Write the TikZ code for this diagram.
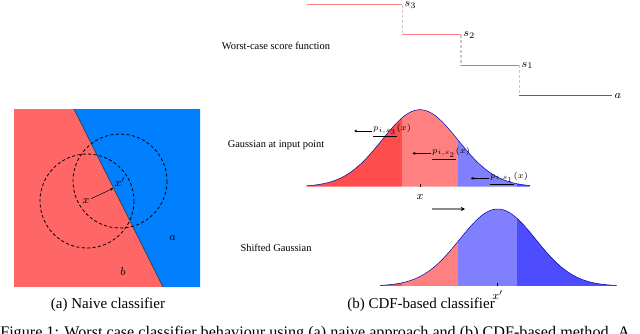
\documentclass[tikz,border=0pt]{standalone}
\usepackage{fontspec}
\setmainfont{Liberation Serif}
\usetikzlibrary{arrows.meta,positioning,calc}
\definecolor{naivered}{HTML}{FF6666}
\definecolor{naiveblue}{HTML}{0080FF}
\definecolor{regSthree}{HTML}{FF4D4D}
\definecolor{regStwo}{HTML}{FF8080}
\definecolor{regSone}{HTML}{8080FF}
\definecolor{regA}{HTML}{4D4DFF}
\definecolor{risergray}{HTML}{C8C8C8}
\definecolor{shiftgray}{HTML}{8C8C8C}

\begin{document}
\begin{tikzpicture}[x=0.7pt,y=-0.7pt,
    declare function={gss(\t,\m)=77*exp(-0.5*((\t-\m)/38)^2);},
    lbl/.style   = {font=\fontsize{7.3}{8.5}\selectfont},
    capt/.style  = {font=\fontsize{10.5}{12}\selectfont},
    mlbl/.style  = {font=\fontsize{8}{9}\selectfont,inner sep=1pt},
    plbl/.style  = {font=\fontsize{6.5}{7}\selectfont,inner sep=0.5pt,anchor=west},
    pointer/.style = {-{Stealth[length=2.2pt,width=2pt]},line width=0.35pt},
    ring/.style  = {dashed,line width=0.55pt,dash pattern=on 2.2pt off 1.6pt},
    riser/.style = {risergray,line width=1.1pt,dash pattern=on 2pt off 1.5pt},
    curveline/.style = {blue!70!black,line width=0.35pt},
  ]
  \clip (0,0) rectangle (640,333);

  % -- (a) naive classifier --------------------------------------------------
  \fill[naivered] (14,109) rectangle (200,287);
  \fill[naiveblue] (74,109) -- (200,109) -- (200,287) -- (163,287) -- cycle;
  \draw[line width=0.35pt,black!80] (74,109) -- (163,287);
  \draw[ring] (87,201) circle (47);
  \draw[ring] (120,181) circle (47);
  \node[mlbl] (x)  at (86,201)  {$x$};
  \node[mlbl] (xp) at (120,182) {$x'$};
  \coordinate (hit) at (113.3,188.3);
  \draw[pointer] (x) -- (hit);
  \node[mlbl] (a) at (172.7,237.7) {$a$};
  \node[mlbl] (b) at (123,272)     {$b$};
  \node[capt] (capa) at (108,305) {(a) Naive classifier};

  % -- worst-case score function ---------------------------------------------
  \node[lbl] (wlbl) at (276,45.7) {Worst-case score function};
  \draw[riser] (402.3,4.7) -- (402.3,34.7);
  \draw[riser] (461,34.7) -- (461,65);
  \draw[riser] (519.3,65) -- (519.3,95.7);
  \foreach \xa/\xb/\y/\c/\n/\t in {306.7/402.3/4.7/regStwo/s3/s_3,
                                   402.3/461/34.7/regStwo/s2/s_2,
                                   461/519.3/65/regSone/s1/s_1,
                                   519.3/612.3/95.7/regA/sa/a} {
    \draw[\c,line width=0.7pt] (\xa,\y) -- (\xb,\y);
    \node[mlbl,anchor=west,inner sep=1.5pt] (\n) at (\xb,\y+0.6) {$\t$};
  }

  % -- Gaussians -------------------------------------------------------------
  \node[lbl] (glbl) at (276,145)   {Gaussian at input point};
  \node[lbl] (slbl) at (276,248.3) {Shifted Gaussian};
  \foreach \m/\lo/\hi/\base in {420/306.7/530/186.7, 497.7/380/616.7/286} {
    \begin{scope}
      \clip (\lo,\base) -- plot[domain=\lo:\hi,samples=90] (\x,{\base-gss(\x,\m)})
            -- (\hi,\base) -- cycle;
      \foreach \ra/\rb/\c in {300/401.7/regSthree, 401.7/458.3/regStwo,
                              458.3/517.3/regSone, 517.3/620/regA}
        \fill[\c] (\ra,\base) rectangle (\rb,{\base-80});
    \end{scope}
    \draw[curveline] plot[domain=\lo:\hi,samples=90] (\x,{\base-gss(\x,\m)});
    \draw[line width=0.5pt] (\m,\base) -- (\m,{\base-3});
  }
  \node[mlbl] (xin)  at (420,196.7)  {$x$};
  \node[mlbl] (xsh)  at (497.7,295)  {$x'$};

  \node[plbl] (p3) at (372,131)   {$\underline{p_{i,s_3}}(x)$};
  \node[plbl] (p2) at (431,153.3) {$\underline{p_{i,s_2}}(x)$};
  \node[plbl] (p1) at (489,178.3) {$\underline{p_{i,s_1}}(x)$};
  \coordinate (p3tip) at (354,131);
  \coordinate (p2tip) at (412.3,153.3);
  \coordinate (p1tip) at (470.7,178.3);
  \draw[pointer] (p3) -- (p3tip);
  \draw[pointer] (p2) -- (p2tip);
  \draw[pointer] (p1) -- (p1tip);

  \coordinate (shiftfrom) at (431.7,209);
  \coordinate (shiftto)   at (465,209);
  \draw[shiftgray,line width=1pt,-{Stealth[length=3pt,width=3pt,black]}] (shiftfrom) -- (shiftto);

  \node[capt] (capb) at (421,305) {(b) CDF-based classifier};

  % -- figure caption --------------------------------------------------------
  \node[font=\fontsize{11.3}{13}\selectfont,anchor=base west,inner sep=0pt] (fig) at (0,337.5)
    {Figure 1: Worst case classifier behaviour using (a) naive approach and (b) CDF-based method. A};
\end{tikzpicture}
\end{document}
